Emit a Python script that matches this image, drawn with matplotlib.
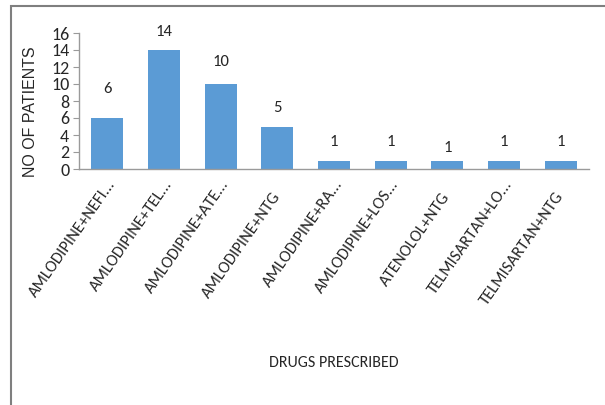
import matplotlib
matplotlib.use("Agg")
import matplotlib.pyplot as plt
from matplotlib.patches import Rectangle
from matplotlib.transforms import ScaledTranslation

# Prescription combinations and patient counts
drugs = [
    "AMLODIPINE+NEFI...",
    "AMLODIPINE+TEL...",
    "AMLODIPINE+ATE...",
    "AMLODIPINE+NTG",
    "AMLODIPINE+RA...",
    "AMLODIPINE+LOS...",
    "ATENOLOL+NTG",
    "TELMISARTAN+LO...",
    "TELMISARTAN+NTG",
]
patients = [6, 14, 10, 5, 1, 1, 1, 1, 1]
y_ticks = [0, 2, 4, 6, 8, 10, 12, 14, 16]

# vertical gap (points) between each bar top and the centre of its value label
label_gap = [21, 13, 16, 13.3, 13.3, 13.3, 9, 13.3, 13.3]

BAR = "#5B9BD5"
AXIS = "#9a9a9a"
TEXT = "#262626"
CAL = ["Carlito", "DejaVu Sans"]
ANGLE = 55

fig = plt.figure(figsize=(6.05, 4.05), dpi=100)
ax = fig.add_axes([79 / 605, 1 - 169 / 405, (589 - 79) / 605, (169 - 33) / 405])

x = list(range(len(drugs)))
ax.bar(x, patients, width=0.57, color=BAR, zorder=2)

for xi, v, g in zip(x, patients, label_gap):
    ax.annotate(str(v), (xi, v), xytext=(0, g), textcoords="offset points",
                ha="center", va="center", fontsize=12, family=CAL, color=TEXT)

ax.set_xlim(-0.5, len(drugs) - 0.5)
ax.set_ylim(0, 16)
ax.set_yticks(y_ticks)
ax.set_yticklabels([str(t) for t in y_ticks], family=CAL, fontsize=13, color=TEXT)
ax.set_xticks(x)
ax.set_xticklabels([])
ax.tick_params(axis="x", length=0)
ax.tick_params(axis="y", length=4, width=0.8, color=AXIS, pad=3)

# category labels: the truncated ones let their ellipsis run past the anchor
base = ax.get_xaxis_transform()
for xi, name in zip(x, drugs):
    dx, dy = (4, -9) if name.endswith("...") else (0, -18)
    ax.text(xi, 0, name, rotation=ANGLE, ha="right", va="center",
            rotation_mode="anchor", family=CAL, fontsize=12, color=TEXT,
            transform=base + ScaledTranslation(dx / 72, dy / 72, fig.dpi_scale_trans))

for side in ("top", "right"):
    ax.spines[side].set_visible(False)
for side in ("left", "bottom"):
    ax.spines[side].set_color(AXIS)
    ax.spines[side].set_linewidth(1.0)

ax.set_ylabel("NO OF PATIENTS", family=["Liberation Sans", "DejaVu Sans"],
              fontsize=11.5, color=TEXT)
ax.yaxis.set_label_coords(-0.080, 0.42)
fig.text(334 / 605, 1 - 363 / 405, "DRUGS PRESCRIBED", ha="center", va="center",
         family=CAL, fontsize=11.5, color=TEXT)

# frame around the chart area
fig.patches.append(Rectangle((10.5 / 605, -0.05), 1.2, 1.05 - 6.5 / 405,
                             transform=fig.transFigure, fill=False,
                             edgecolor="#7f7f7f", linewidth=1.5))

fig.savefig("out.png", dpi=100)
